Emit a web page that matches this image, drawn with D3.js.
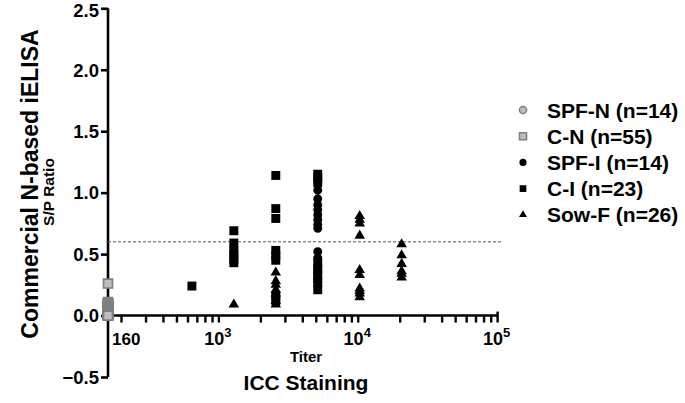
<!DOCTYPE html>
<html>
<head>
	<meta charset="utf-8">
	<title>ICC staining vs commercial N-based iELISA</title>
	<script src="https://d3js.org/d3.v7.min.js"></script>
	<style>
		body { margin: 0; background: #fff; }
		text { font-family: "Liberation Sans", Arial, sans-serif; font-weight: bold; }
	</style>
</head>
<body>
	<div id="chart"></div>
	<script>
		var w = 685;
		var h = 403;

		// data: [titer, S/P ratio]; titers below 160 are plotted at 160
		var spfN = [[160,0.00],[160,0.01],[160,0.01],[160,0.02],[160,0.02],[160,0.00],[160,0.01],
			[160,0.02],[160,0.03],[160,0.01],[160,0.00],[160,0.02],[160,0.01],[160,0.03]];
		var cN = [[160,0.26],[160,0.11],[160,0.10],[160,0.10],[160,0.09],[160,0.09],[160,0.08],[160,0.08],
			[160,0.08],[160,0.07],[160,0.07],[160,0.07],[160,0.07],[160,0.06],[160,0.06],[160,0.06],
			[160,0.06],[160,0.06],[160,0.05],[160,0.05],[160,0.05],[160,0.05],[160,0.05],[160,0.05],
			[160,0.04],[160,0.04],[160,0.04],[160,0.04],[160,0.04],[160,0.04],[160,0.04],[160,0.03],
			[160,0.03],[160,0.03],[160,0.03],[160,0.03],[160,0.03],[160,0.03],[160,0.02],[160,0.02],
			[160,0.02],[160,0.02],[160,0.02],[160,0.02],[160,0.02],[160,0.01],[160,0.01],[160,0.01],
			[160,0.01],[160,0.01],[160,0.00],[160,0.00],[160,0.00],[160,0.00],[160,0.00]];
		var spfI = [[5120,1.02],[5120,0.95],[5120,0.90],[5120,0.86],[5120,0.82],[5120,0.78],[5120,0.74],
			[5120,0.71],[5120,0.52],[5120,0.47],[5120,0.38],[5120,0.34],[5120,0.31],[5120,0.28]];
		var cI = [[640,0.24],
			[1280,0.69],[1280,0.59],[1280,0.53],[1280,0.50],[1280,0.46],[1280,0.43],
			[2560,1.14],[2560,0.87],[2560,0.79],[2560,0.53],[2560,0.49],[2560,0.45],[2560,0.16],[2560,0.12],
			[5120,1.15],[5120,1.12],[5120,1.08],[5120,0.43],[5120,0.38],[5120,0.33],[5120,0.27],[5120,0.21]];
		var sowF = [[1280,0.09],
			[2560,0.35],[2560,0.28],[2560,0.25],[2560,0.21],[2560,0.18],[2560,0.12],[2560,0.09],
			[10240,0.81],[10240,0.78],[10240,0.75],[10240,0.65],[10240,0.37],[10240,0.33],[10240,0.22],
			[10240,0.20],[10240,0.18],[10240,0.15],
			[20480,0.58],[20480,0.49],[20480,0.42],[20480,0.36],[20480,0.34],[20480,0.31]];

		var legendLabels = ["SPF-N (n=14)", "C-N (n=55)", "SPF-I (n=14)", "C-I (n=23)", "Sow-F (n=26)"];
		var yTicks = [-0.5, 0, 0.5, 1.0, 1.5, 2.0, 2.5];
		var xMajor = [1e3, 1e4, 1e5];
		var xMinor = [200,300,400,500,600,700,800,900,2000,3000,4000,5000,6000,7000,8000,9000,
			20000,30000,40000,50000,60000,70000,80000,90000];
		var cutoff = 0.6;

		var svg = d3.select("#chart").append("svg")
			.attr("width", w)
			.attr("height", h);

		var x = d3.scaleLog().domain([160, 1e5]).range([108, 497.6]);
		var y = d3.scaleLinear().domain([-0.5, 2.5]).range([377, 8.3]);

		// y axis
		var yAxis = d3.axisLeft(y).tickValues(yTicks).tickSize(7).tickPadding(2)
			.tickFormat(d3.format(".1f"));
		var gy = svg.append("g").attr("transform", "translate(108,0)").call(yAxis);
		gy.select(".domain").attr("stroke-width", 2.6).attr("d", "M0," + y(-0.5) + "V" + y(2.5));
		gy.selectAll(".tick line").attr("stroke-width", 2.6);
		gy.selectAll(".tick text").attr("font-size", 18.5).attr("fill", "#000").attr("font-family", null)
			.attr("dy", function(d) { return d === 2.5 ? "0.42em" : "0.34em"; });

		// x axis on y = 0
		var gx = svg.append("g").attr("transform", "translate(0," + y(0) + ")");
		gx.append("line").attr("x1", 108).attr("x2", x(1e5)).attr("stroke", "#000").attr("stroke-width", 2.6);
		gx.selectAll(".minor").data(xMinor).enter().append("line")
			.attr("class", "minor")
			.attr("x1", function(d) { return x(d); }).attr("x2", function(d) { return x(d); })
			.attr("y1", 0).attr("y2", 7)
			.attr("stroke", "#000").attr("stroke-width", 2.4);
		gx.selectAll(".major").data(xMajor).enter().append("line")
			.attr("class", "major")
			.attr("x1", function(d) { return x(d); }).attr("x2", function(d) { return x(d); })
			.attr("y1", d => d === 1e5 ? -4 : 0).attr("y2", 7)
			.attr("stroke", "#000").attr("stroke-width", 2.4);

		var xl = gx.selectAll(".xlab").data(xMajor).enter().append("text")
			.attr("class", "xlab")
			.attr("x", function(d) { return x(d) - 1; })
			.attr("y", 29)
			.attr("text-anchor", "middle")
			.attr("font-size", 18);
		xl.append("tspan").text("10");
		xl.append("tspan").attr("dy", -8).attr("font-size", 13)
			.text(function(d) { return Math.round(Math.log10(d)); });
		gx.append("text").attr("x", 112).attr("y", 29).attr("font-size", 17).text("160");

		// cutoff line
		svg.append("line")
			.attr("x1", 108).attr("x2", 503)
			.attr("y1", y(cutoff)).attr("y2", y(cutoff))
			.attr("stroke", "#555").attr("stroke-width", 1)
			.attr("stroke-dasharray", "3,2");

		// markers
		var sym = {
			circle: d3.symbol().type(d3.symbolCircle).size(62),
			square: d3.symbol().type(d3.symbolSquare).size(80),
			tri: d3.symbol().type(d3.symbolTriangle).size(48)
		};
		var series = [
			{ data: spfN, shape: "circle", fill: "#bdbdbd", stroke: "#7f7f7f" },
			{ data: cN, shape: "square", fill: "#bdbdbd", stroke: "#7f7f7f" },
			{ data: sowF, shape: "tri", fill: "#000", stroke: "none" },
			{ data: cI, shape: "square", fill: "#000", stroke: "none" },
			{ data: spfI, shape: "circle", fill: "#000", stroke: "none" }
		];
		series.forEach(function(s) {
			svg.append("g").selectAll("path").data(s.data).enter().append("path")
				.attr("d", sym[s.shape])
				.attr("transform", function(d) { return "translate(" + x(d[0]) + "," + y(d[1]) + ")"; })
				.attr("fill", s.fill)
				.attr("stroke", s.stroke)
				.attr("stroke-width", 1.6);
		});

		// legend
		var legendShapes = [
			{ shape: d3.symbol().type(d3.symbolCircle).size(40), fill: "#bdbdbd", stroke: "#7f7f7f" },
			{ shape: d3.symbol().type(d3.symbolSquare).size(50), fill: "#bdbdbd", stroke: "#7f7f7f" },
			{ shape: d3.symbol().type(d3.symbolCircle).size(40), fill: "#000", stroke: "none" },
			{ shape: d3.symbol().type(d3.symbolSquare).size(45), fill: "#000", stroke: "none" },
			{ shape: d3.symbol().type(d3.symbolTriangle).size(28), fill: "#000", stroke: "none" }
		];
		var lg = svg.append("g").selectAll("g").data(legendLabels).enter().append("g")
			.attr("transform", function(d, i) { return "translate(523," + (110 + i * 26.2) + ")"; });
		lg.append("path")
			.attr("d", function(d, i) { return legendShapes[i].shape(); })
			.attr("fill", function(d, i) { return legendShapes[i].fill; })
			.attr("stroke", function(d, i) { return legendShapes[i].stroke; })
			.attr("stroke-width", 1.5);
		lg.append("text").attr("x", 24).attr("y", 7.5).attr("font-size", 21).text(function(d) { return d; });

		// axis titles
		svg.append("text").attr("transform", "translate(38,184) rotate(-90)")
			.attr("text-anchor", "middle").attr("font-size", 23).text("Commercial N-based iELISA");
		svg.append("text").attr("transform", "translate(54,192) rotate(-90)")
			.attr("text-anchor", "middle").attr("font-size", 15.5).text("S/P Ratio");
		svg.append("text").attr("x", 306).attr("y", 362)
			.attr("text-anchor", "middle").attr("font-size", 15).text("Titer");
		svg.append("text").attr("x", 306).attr("y", 390)
			.attr("text-anchor", "middle").attr("font-size", 21).text("ICC Staining");
	</script>
</body>
</html>
